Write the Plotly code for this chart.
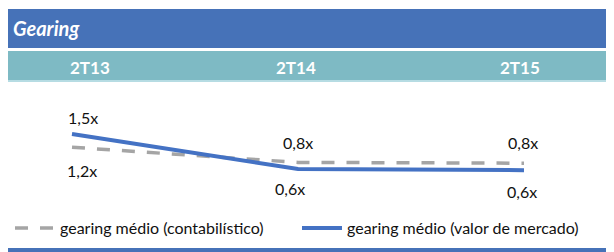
import plotly.graph_objects as go

# ---- data ----
categories = ["2T13", "2T14", "2T15"]
gearing_contabilistico = [1.16, 0.77, 0.75]
gearing_mercado = [1.50, 0.60, 0.57]
series_names = ["gearing médio (contabilístico)", "gearing médio (valor de mercado)"]
title_text = "Gearing"

# ---- layout helpers (page has an 8px body margin) ----
OX, OY = 8, 8
W, H = 606, 244


def py(p):
    return 1 - (p - OY) / H


def px(p):
    return (p - OX) / W


def fmt(v):
    return f"{v:.1f}".replace(".", ",") + "x"


FONT = "Lato, 'Open Sans', sans-serif"
BLUE = "#4472C4"
GRAY = "#A5A5A5"
TITLE_BAR = "#4672B8"
TEAL = "#7EBAC4"
TEAL_LIGHT = "#B6DCE3"
TXT = "#111111"

# label offsets (xshift, yshift) in px
gray_label_shift = [(10, -23), (0, 20), (-1, 21)]
blue_label_shift = [(11, 17), (-8, -19), (-2, -21)]
header_x_px = [90, 296, 520]

fig = go.Figure()
fig.add_trace(go.Scatter(
    x=categories, y=gearing_contabilistico, mode="lines", name=series_names[0],
    line=dict(color=GRAY, width=3.5, dash="13px,12px"), hoverinfo="skip", legend="legend"))
fig.add_trace(go.Scatter(
    x=categories, y=gearing_mercado, mode="lines", name=series_names[1],
    line=dict(color=BLUE, width=4), hoverinfo="skip", legend="legend2"))

annotations = []
for c, v, (dx, dy) in zip(categories, gearing_contabilistico, gray_label_shift):
    annotations.append(dict(x=c, y=v, xref="x", yref="y", text=fmt(v), showarrow=False,
                            xshift=dx, yshift=dy, font=dict(family=FONT, size=16, color=TXT)))
for c, v, (dx, dy) in zip(categories, gearing_mercado, blue_label_shift):
    annotations.append(dict(x=c, y=v, xref="x", yref="y", text=fmt(v), showarrow=False,
                            xshift=dx, yshift=dy, font=dict(family=FONT, size=16, color=TXT)))
for c, hx in zip(categories, header_x_px):
    annotations.append(dict(x=px(hx), y=py(67), xref="paper", yref="paper", text=c,
                            showarrow=False, xanchor="center", yanchor="middle",
                            font=dict(family=FONT, size=17, color="white", weight="bold")))
annotations.append(dict(x=px(11), y=py(28), xref="paper", yref="paper", text=title_text,
                        showarrow=False, xanchor="left", yanchor="middle",
                        font=dict(family=FONT, size=20, color="white", weight="bold", style="italic")))

shapes = [
    dict(type="rect", xref="paper", yref="paper", x0=0, x1=1, y0=py(48), y1=py(9),
         fillcolor=TITLE_BAR, line=dict(width=0), layer="below"),
    dict(type="rect", xref="paper", yref="paper", x0=0, x1=1, y0=py(80), y1=py(51),
         fillcolor=TEAL, line=dict(width=0), layer="below"),
    dict(type="rect", xref="paper", yref="paper", x0=0, x1=1, y0=py(82), y1=py(80),
         fillcolor=TEAL_LIGHT, line=dict(width=0), layer="below"),
    dict(type="rect", xref="paper", yref="paper", x0=0, x1=1, y0=py(252), y1=py(248),
         fillcolor=TITLE_BAR, line=dict(width=0), layer="below"),
]

legend_style = dict(orientation="h", yanchor="middle", xanchor="left", y=py(228),
                    font=dict(family=FONT, size=16, color=TXT),
                    bgcolor="rgba(0,0,0,0)", itemwidth=40)

unit = 38.9          # px per 1.0x
x_step = 226         # px per category
x0_px = 72 - OX      # first category position
y_ref_px = 134 - OY  # position of 1.5x
fig.update_layout(
    width=W, height=H,
    margin=dict(l=0, r=0, t=0, b=0, pad=0),
    paper_bgcolor="white", plot_bgcolor="white",
    xaxis=dict(type="category", visible=False,
               range=[-x0_px / x_step, (W - x0_px) / x_step], fixedrange=True),
    yaxis=dict(visible=False,
               range=[1.5 - (H - y_ref_px) / unit, 1.5 + y_ref_px / unit], fixedrange=True),
    showlegend=True,
    legend=dict(x=px(10), **legend_style),
    legend2=dict(x=px(297), **legend_style),
    annotations=annotations,
    shapes=shapes,
)

fig.write_html("out.html", config=dict(displayModeBar=False))
